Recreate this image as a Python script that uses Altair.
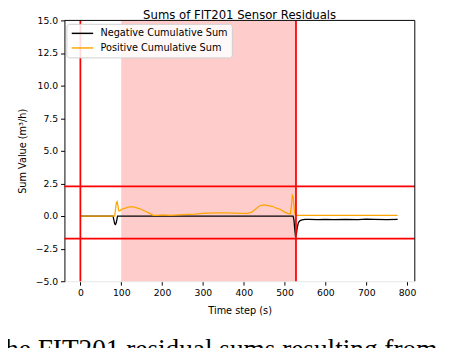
import altair as alt
import pandas as pd

# ---- data ----
neg_t = [0, 80, 82, 84, 86, 88, 91, 100, 200, 300, 400, 500, 521, 523, 525, 527, 529, 531, 534, 538, 543, 550, 560, 580, 600, 620, 650, 680, 700, 720, 750, 777]
neg_v = [0, 0, -0.3, -0.6, -0.65, -0.5, 0, 0, 0, 0, 0, 0, 0, -0.3, -1.0, -1.6, -1.4, -0.9, -0.5, -0.35, -0.3, -0.25, -0.25, -0.27, -0.25, -0.28, -0.25, -0.27, -0.24, -0.25, -0.27, -0.25]

pos_t = [0, 84, 86, 88, 90, 92, 94, 97, 100, 110, 120, 130, 140, 150, 160, 170, 178, 190, 200, 220, 250, 280, 300, 330, 360, 390, 410, 420, 430, 440, 450, 460, 470, 480, 490, 500, 508, 514, 517, 519, 521, 523, 525, 527, 528, 530, 600, 700, 777]
pos_v = [0, 0, 0.5, 1.0, 1.1, 0.8, 0.4, 0.4, 0.5, 0.6, 0.7, 0.7, 0.6, 0.5, 0.35, 0.2, 0.05, 0.05, 0.08, 0.05, 0.1, 0.15, 0.2, 0.25, 0.25, 0.2, 0.2, 0.3, 0.55, 0.8, 0.85, 0.8, 0.75, 0.6, 0.5, 0.3, 0.2, 0.15, 0.8, 1.6, 1.5, 0.8, 0.2, 0.05, 0.05, 0.05, 0.05, 0.05, 0.05]

series_names = ["Negative Cumulative Sum", "Positive Cumulative Sum"]
series_colors = ["black", "orange"]

attack_start = [100]
attack_end = [528]
vlines = [0, 528]
hlines = [2.27, -1.74]

title_text = "Sums of FIT201 Sensor Residuals"
caption_text = "The FIT201 residual sums resulting from the"
x_ticks = [0, 100, 200, 300, 400, 500, 600, 700, 800]
y_ticks = [-5.0, -2.5, 0.0, 2.5, 5.0, 7.5, 10.0, 12.5, 15.0]

# ---- tables ----
lines_df = pd.concat([
    pd.DataFrame({"t": neg_t, "v": neg_v, "series": series_names[0], "o": range(len(neg_t))}),
    pd.DataFrame({"t": pos_t, "v": pos_v, "series": series_names[1], "o": range(len(pos_t))}),
])
shade_df = pd.DataFrame({"a": attack_start, "b": attack_end})
vl_df = pd.DataFrame({"x": vlines})
hl_df = pd.DataFrame({"y": hlines})

W, H = 360, 268
FONT = "DejaVu Sans"

xs = alt.Scale(domain=[-39, 819], nice=False, zero=False)
ys = alt.Scale(domain=[-5, 15], nice=False, zero=False)
x_axis = alt.Axis(values=x_ticks, format="d", domainColor="#e6e6e6", title="Time step (s)")
y_axis = alt.Axis(values=y_ticks, format=".1f", domainColor="black", title="Sum Value (m³/h)",
                  labelOverlap=False)

shade = alt.Chart(shade_df).mark_rect(color="#ffcccc", opacity=1).encode(
    x=alt.X("a:Q", scale=xs, axis=x_axis), x2="b:Q", y=alt.value(0), y2=alt.value(H)
)

lines = alt.Chart(lines_df).mark_line(strokeWidth=1.3).encode(
    x=alt.X("t:Q", scale=xs, axis=x_axis),
    y=alt.Y("v:Q", scale=ys, axis=y_axis),
    color=alt.Color("series:N",
                    scale=alt.Scale(domain=series_names, range=series_colors),
                    legend=None),
    order="o:Q",
)

vrules = alt.Chart(vl_df).mark_rule(color="red", strokeWidth=1.8).encode(
    x=alt.X("x:Q", scale=xs, axis=x_axis)
)
hrules = alt.Chart(hl_df).mark_rule(color="red", strokeWidth=1.8).encode(
    y=alt.Y("y:Q", scale=ys, axis=y_axis)
)

frame_top = alt.Chart().mark_rule(color="black", strokeWidth=1).encode(
    x=alt.value(0), x2=alt.value(W), y=alt.value(0)
)
frame_right = alt.Chart().mark_rule(color="black", strokeWidth=1).encode(
    x=alt.value(W), y=alt.value(0), y2=alt.value(H)
)

# legend (built from the series lists)
legend_box = alt.Chart().mark_rect(fill="white", fillOpacity=0.85, stroke="#d0d0d0",
                                   strokeWidth=1, cornerRadius=3).encode(
    x=alt.value(2.5), x2=alt.value(172.5), y=alt.value(4), y2=alt.value(38.5)
)
legend_layers = [legend_box]
for i, (name, col) in enumerate(zip(series_names, series_colors)):
    yy = 13.3 + 15 * i
    legend_layers.append(
        alt.Chart().mark_rule(color=col, strokeWidth=1.5).encode(
            x=alt.value(7.5), x2=alt.value(29.5), y=alt.value(yy))
    )
    legend_layers.append(
        alt.Chart(pd.DataFrame({"s": [name]})).mark_text(
            fontSize=10, font=FONT, align="left", baseline="middle", color="black"
        ).encode(text="s:N", x=alt.value(37), y=alt.value(yy))
    )

title = alt.Chart(pd.DataFrame({"s": [title_text]})).mark_text(
    fontSize=12, font=FONT, align="center", baseline="alphabetic", color="black"
).encode(text="s:N", x=alt.value(W / 2), y=alt.value(-1))

caption = alt.Chart(pd.DataFrame({"s": [caption_text]})).mark_text(
    fontSize=28, font="Liberation Serif", align="left", baseline="alphabetic", color="black"
).encode(text="s:N", x=alt.value(-78), y=alt.value(347))

chart = alt.layer(shade, lines, vrules, hrules, frame_top, frame_right,
                  *legend_layers, title, caption).properties(
    width=W, height=H,
    autosize=alt.AutoSizeParams(type="none"),
    padding={"left": 58, "top": 8, "right": 30, "bottom": 70},
).configure_view(stroke=None).configure_axis(
    grid=False, labelFont=FONT, titleFont=FONT, labelFontSize=9.5, titleFontSize=10,
    titleFontWeight="normal", tickSize=4, tickColor="black", labelColor="black",
    titleColor="black", labelPadding=3,
).configure_axisY(titlePadding=8).configure_axisX(titlePadding=9)

chart.save("out.html", embed_options={"renderer": "svg", "actions": False})
